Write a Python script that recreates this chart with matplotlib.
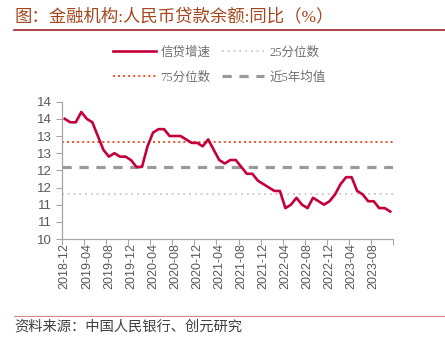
import matplotlib
matplotlib.use("Agg")
import matplotlib.pyplot as plt
from matplotlib.lines import Line2D
import numpy as np
import pandas as pd

# 信贷增速 (%), monthly 2018-12 .. 2023-11
loan_yoy = [13.5, 13.4, 13.4, 13.7, 13.5, 13.4, 13.0, 12.6, 12.4, 12.5, 12.4, 12.4, 12.3,
            12.1, 12.1, 12.7, 13.1, 13.2, 13.2, 13.0, 13.0, 13.0, 12.9, 12.8, 12.8,
            12.7, 12.9, 12.6, 12.3, 12.2, 12.3, 12.3, 12.1, 11.9, 11.9, 11.7, 11.6,
            11.5, 11.4, 11.4, 10.9, 11.0, 11.2, 11.0, 10.9, 11.2, 11.1, 11.0, 11.1,
            11.3, 11.6, 11.8, 11.8, 11.4, 11.3, 11.1, 11.1, 10.9, 10.9, 10.8]
months = [p.strftime("%Y-%m") for p in pd.period_range("2018-12", periods=len(loan_yoy), freq="M")]
y_ticks = [10, 10.5, 11, 11.5, 12, 12.5, 13, 13.5, 14]
y_labels = ["10", "11", "11", "12", "12", "13", "13", "14", "14"]

p25 = np.percentile(loan_yoy, 25)
p75 = np.percentile(loan_yoy, 75)
avg = np.mean(loan_yoy)

cjk = ["Liberation Serif", "Noto Sans CJK SC"]
grey = "#595959"
axis_c = "#A6A6A6"

red_ls = (0, (1, 1.6))
grey_ls = (0, (1, 2.2))
dash_ls = (0, (2.9, 2.4))

fig = plt.figure(figsize=(4.45, 3.39), dpi=100)
ax = fig.add_axes([62/445, 1-239/339, (393-62)/445, (239-101.7)/339])

x = np.arange(len(loan_yoy))
ax.plot(x, loan_yoy, color="#C4003A", lw=1.9, solid_joinstyle="round", zorder=5)
ax.axhline(p25, color="#C8C8C8", lw=1.3, ls=grey_ls)
ax.axhline(p75, color="#F0501E", lw=1.4, ls=red_ls)
ax.axhline(avg, color="#9A9A9A", lw=2.3, ls=dash_ls)

ax.set_xlim(-0.5, len(loan_yoy) - 0.5)
ax.set_ylim(10, 14)

# tick marks between groups of 4 months, labels on the first month of each group
ax.set_xticks(np.arange(-0.5, len(loan_yoy), 4))
ax.set_xticklabels([])
ax.set_xticks(x[::4][:15], minor=True)
ax.set_xticklabels(months[::4][:15], minor=True, rotation=90)
ax.tick_params(axis="x", which="major", length=4, width=0.8, color=axis_c, direction="out")
ax.tick_params(axis="x", which="minor", length=0, pad=3, labelsize=9, labelcolor=grey)

ax.set_yticks(y_ticks)
ax.set_yticklabels(y_labels)
ax.tick_params(axis="y", length=4, width=0.8, color=axis_c, labelsize=9.5, labelcolor=grey, pad=3)

for t in ax.get_xticklabels(minor=True) + ax.get_yticklabels():
    t.set_family("Liberation Sans")

for s in ["top", "right"]:
    ax.spines[s].set_visible(False)
for s in ["left", "bottom"]:
    ax.spines[s].set_color(axis_c)
    ax.spines[s].set_linewidth(0.9)

handles = [
    Line2D([], [], color="#C4003A", lw=1.9),
    Line2D([], [], color="#F0501E", lw=1.4, ls=red_ls),
    Line2D([], [], color="#C8C8C8", lw=1.3, ls=grey_ls),
    Line2D([], [], color="#9A9A9A", lw=2.3, ls=dash_ls),
]
labels = ["信贷增速", "75分位数", "25分位数", "近5年均值"]
fig.legend(handles, labels, ncol=2, loc="upper left", bbox_to_anchor=(113/445, 1-46/339),
           frameon=False, borderpad=0, borderaxespad=0, handlelength=3.4, handletextpad=0.4,
           columnspacing=0.9, labelspacing=1.05, prop={"family": cjk, "size": 9}, labelcolor="#6E6E6E")

# title and source
fig.text(14/445, 1-17/339, "图：金融机构:人民币贷款余额:同比（%）", family=cjk, fontsize=12.5,
         color="#A5461E", va="center", ha="left")
fig.add_artist(Line2D([14/445, 1], [1-29.5/339, 1-29.5/339], color="#A0262A", lw=1.2))
fig.add_artist(Line2D([14/445, 1], [1-316/339, 1-316/339], color="#D98C8C", lw=0.8))
fig.text(14/445, 1-327/339, "资料来源：中国人民银行、创元研究", family=cjk, fontsize=10.3,
         color="#404040", va="center", ha="left")

fig.savefig("out.png", dpi=100)
